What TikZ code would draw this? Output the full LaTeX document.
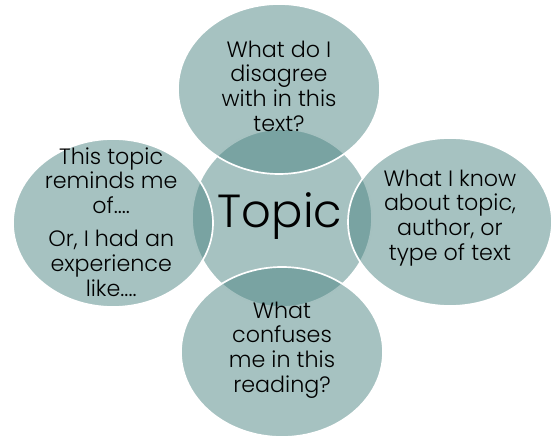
\documentclass[tikz,border=0pt]{standalone}
\usepackage{fontspec}
\setmainfont{Poppins}[UprightFont=* Light]
\usepackage{tikz}
\usetikzlibrary{shapes.geometric}

\definecolor{petal}{RGB}{77,133,131}

\tikzset{
    bubble/.style={ellipse, fill=petal, fill opacity=0.5, draw=white, line width=1.2pt, inner sep=0pt},
    words/.style={align=center, text=black, font=\fontsize{15.8}{17.6}\selectfont},
}

\begin{document}
\begin{tikzpicture}
        \useasboundingbox (0,0) rectangle (13.825,-10.925);
        % centre circle first, petals over it
        \node[bubble, minimum width=4.5cm, minimum height=4.45cm] (topic) at (7.05,-5.45) {};
        \node[bubble, minimum width=5.05cm, minimum height=4.25cm] (disagree) at (6.975,-2.225) {};
        \node[bubble, minimum width=5cm, minimum height=4.2cm] (reminds) at (2.825,-5.575) {};
        \node[bubble, minimum width=5.1cm, minimum height=4.2cm] (know) at (11.25,-5.55) {};
        \node[bubble, minimum width=5.05cm, minimum height=4.25cm] (confuses) at (7.05,-8.8) {};
        % texts
        \node[font=\fontsize{33}{40}\selectfont] (topictext) at (7.0,-5.4) {Topic};
        \node[words] (disagreetext) at (6.975,-2.15) {What do I\\disagree\\with in this\\text?};
        \node[words] (remindstext) at (2.78,-5.55) {This topic\\reminds me\\of....\\[6pt]Or, I had an\\experience\\like....};
        \node[words] (knowtext) at (11.25,-5.45) {What I know\\about topic,\\author, or\\type of text};
        \node[words] (confusestext) at (7.05,-8.75) {What\\confuses\\me in this\\reading?};
\end{tikzpicture}
\end{document}
